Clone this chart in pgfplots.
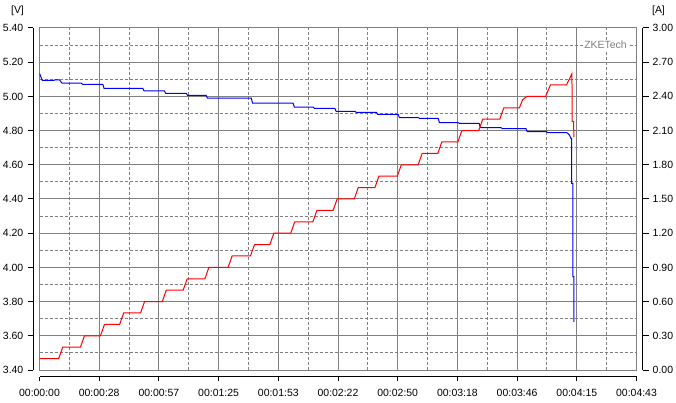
\documentclass[border=0pt]{standalone}
\usepackage{pgfplots}
\pgfplotsset{compat=1.18}
\usepackage{fontspec}
\setmainfont{Liberation Sans}
\definecolor{gridgray}{RGB}{128,128,128}
\definecolor{zkegray}{RGB}{128,128,128}
\newcommand{\lblfont}{\fontsize{10.5}{12}\selectfont}
\pgfplotsset{
  common/.style={scale only axis, width=597bp, height=342bp,
    xmin=0, xmax=283, anchor=south west,
    tick label style={font=\lblfont},
    xtick={0,28.3,56.6,84.9,113.2,141.5,169.8,198.1,226.4,254.7,283}},
}
\pgfplotstableread{
t V
0 5.135
1.3 5.094
6.8 5.094
7.5 5.097
9.5 5.096
10.7 5.077
19.8 5.077
20.4 5.071
30 5.071
30.6 5.047
49 5.047
49.6 5.032
59.2 5.032
59.8 5.018
69.6 5.018
70.2 5.006
79.0 5.006
79.6 4.990
100.4 4.990
101 4.960
120.2 4.960
120.8 4.938
129.7 4.938
130.3 4.930
140 4.930
140.6 4.913
149.5 4.913
150.1 4.907
159.7 4.907
160.3 4.895
170 4.895
170.6 4.876
179.5 4.876
180.1 4.872
189 4.872
189.6 4.846
198.5 4.846
199.1 4.842
208.4 4.842
209 4.817
218.8 4.817
219.4 4.811
230.6 4.811
231.2 4.794
240.3 4.794
240.9 4.788
250 4.788
251.2 4.774
251.9 4.755
252.2 4.755
252.2 4.492
252.8 4.492
252.8 3.946
253.3 3.946
253.3 3.682
}\voltdata
\pgfplotstableread{
t I
0 0.1
9.1 0.1
11 0.2
19.4 0.2
21.3 0.3
28.9 0.3
30.8 0.4
38 0.4
39.9 0.5
47.9 0.5
49.8 0.6
58.2 0.6
60.1 0.7
68.1 0.7
70 0.8
78.4 0.8
80.3 0.9
89.4 0.9
91.3 1.0
100 1.0
101.9 1.1
109.2 1.1
111.1 1.2
119.1 1.2
121 1.3
129.6 1.3
131.5 1.4
139.2 1.4
141.1 1.5
149.2 1.5
151.1 1.6
159 1.6
160.9 1.7
169.6 1.7
171.5 1.8
179.5 1.8
181.4 1.9
188.8 1.9
190.7 2.0
198.3 2.0
200.2 2.1
208.2 2.1
210.1 2.2
218.2 2.2
220.1 2.3
227.5 2.3
229 2.37
231 2.4
239.9 2.4
242.2 2.5
249.8 2.5
252.4 2.6
252.5 2.18
253.2 2.18
253.3 2.04
}\currdata
\begin{document}
\begin{tikzpicture}
% grid, frame and voltage
\begin{axis}[common, at={(0,0)}, ymin=3.4, ymax=5.4,
  ytick={3.4,3.6,3.8,4.0,4.2,4.4,4.6,4.8,5.0,5.2,5.4},
  minor x tick num=1, minor y tick num=1,
  xticklabels={}, yticklabels={},
  major tick length=0pt, minor tick length=0pt,
  grid=both,
  major grid style={draw=gridgray, line width=1bp},
  minor grid style={draw=gridgray, line width=1bp, dash pattern=on 3bp off 2bp},
  axis line style={draw=gridgray, line width=1bp}]
  \addplot[blue, line width=1bp] table[x=t, y=V] {\voltdata};
  \node[fill=white, text=zkegray, inner sep=1bp, font=\lblfont] at (axis cs:268.3,5.30) {ZKETech};
\end{axis}
% current data
\begin{axis}[common, at={(0,0)}, ymin=0, ymax=3, hide axis]
  \addplot[red, line width=1bp] table[x=t, y=I] {\currdata};
\end{axis}
% left axis
\begin{axis}[common, at={(-6bp,0)}, ymin=3.4, ymax=5.4,
  axis y line*=left, axis x line=none,
  ytick={3.4,3.6,3.8,4.0,4.2,4.4,4.6,4.8,5.0,5.2,5.4},
  yticklabels={3.40,3.60,3.80,4.00,4.20,4.40,4.60,4.80,5.00,5.20,5.40},
  tick align=outside, major tick length=5bp,
  every tick/.style={black, line width=1bp},
  y axis line style={black, line width=1bp},
  yticklabel style={inner sep=0pt, xshift=-5bp}]
\end{axis}
% right axis
\begin{axis}[common, at={(6bp,0)}, ymin=0, ymax=3,
  axis y line*=right, axis x line=none,
  ytick={0,0.3,0.6,0.9,1.2,1.5,1.8,2.1,2.4,2.7,3.0},
  yticklabels={0.00,0.30,0.60,0.90,1.20,1.50,1.80,2.10,2.40,2.70,3.00},
  tick align=outside, major tick length=6bp,
  every tick/.style={black, line width=1bp},
  y axis line style={black, line width=1bp},
  yticklabel style={inner sep=0pt, xshift=4bp}]
\end{axis}
% bottom axis
\begin{axis}[common, at={(0,-6.5bp)}, ymin=0, ymax=1,
  axis x line*=bottom, axis y line=none,
  xticklabels={00:00:00,00:00:28,00:00:57,00:01:25,00:01:53,00:02:22,00:02:50,00:03:18,00:03:46,00:04:15,00:04:43},
  tick align=outside, major tick length=4.5bp,
  every tick/.style={black, line width=1bp},
  x axis line style={black, line width=1bp},
  xticklabel style={inner sep=0pt, yshift=-8bp}]
\end{axis}
\node[font=\lblfont] at (-22bp,359bp) {[V]};
\node[font=\lblfont] at (619bp,359bp) {[A]};
\pgfresetboundingbox
\path[use as bounding box] (-39.5bp,-33bp) rectangle (636.5bp,370bp);
\end{tikzpicture}
\end{document}
